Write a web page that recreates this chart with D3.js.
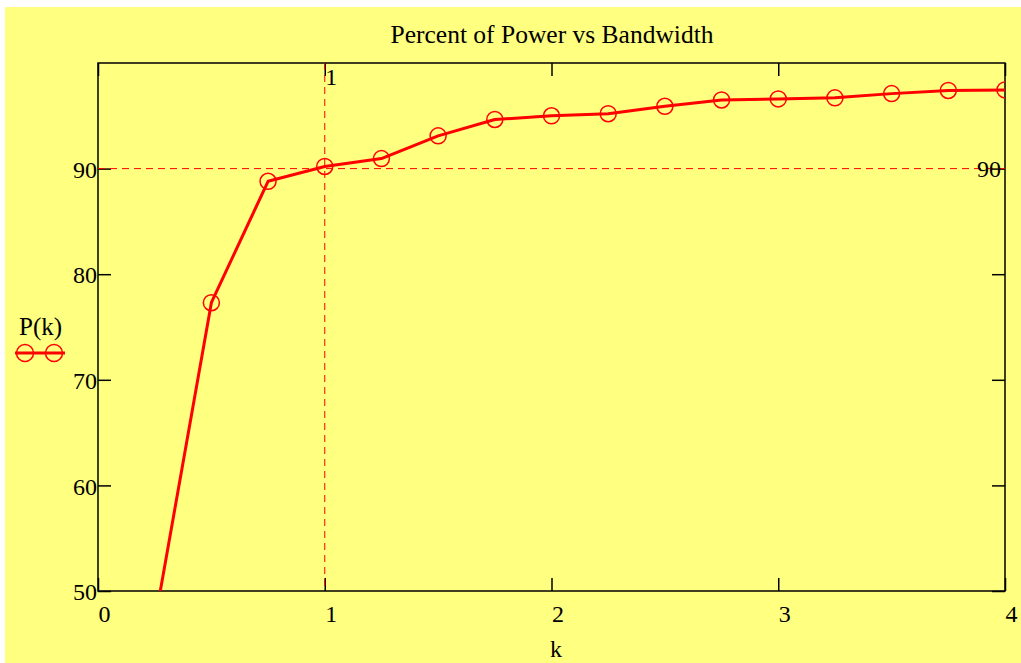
<!DOCTYPE html>
<html>
<head>
<meta charset="utf-8">
<script src="https://cdn.jsdelivr.net/npm/d3@7"></script>
<style>
  body { margin: 0; background: #fff; }
  svg text { font-family: "Liberation Serif", "Times New Roman", serif; fill: #000; }
</style>
</head>
<body>
<div id="chart"></div>
<script>
// Data
const kValues  = [0.25, 0.5, 0.75, 1, 1.25, 1.5, 1.75, 2, 2.25, 2.5, 2.75, 3, 3.25, 3.5, 3.75, 4];
const powerPct = [47.0, 77.3, 88.8, 90.2, 90.95, 93.1, 94.65, 95.0, 95.2, 95.9, 96.5, 96.6, 96.7, 97.1, 97.4, 97.45];
const xTicks   = [0, 1, 2, 3, 4];
const yTicks   = [50, 60, 70, 80, 90];
const markK    = 1;
const markP    = 90;

const W = 1021, H = 663;
const plot = { left: 98, right: 1005, top: 63, bottom: 591 };
const red = "#ff0000";
const labelSize = "24px";

const svg = d3.select("#chart").append("svg")
    .attr("width", W)
    .attr("height", H);

// yellow panel
svg.append("rect")
    .attr("x", 5).attr("y", 7)
    .attr("width", W - 5).attr("height", H - 7)
    .attr("fill", "#ffff80");

const x = d3.scaleLinear().domain([0, 4]).range([plot.left, plot.right]);
const y = d3.scaleLinear().domain([50, 100]).range([plot.bottom, plot.top]);

svg.append("clipPath").attr("id", "plotClip")
  .append("rect")
    .attr("x", plot.left).attr("y", plot.top)
    .attr("width", plot.right - plot.left)
    .attr("height", plot.bottom - plot.top);

// Axes with inward ticks
const tickLen = 13;
const axisStyle = g => {
  g.select(".domain").remove();
  g.selectAll(".tick line").attr("stroke", "#000").attr("stroke-width", 1.5);
  g.selectAll(".tick text").style("font-size", labelSize);
};

svg.append("g")
    .attr("transform", `translate(${plot.left},0)`)
    .call(d3.axisLeft(y).tickValues(yTicks).tickSize(-tickLen).tickPadding(1).tickFormat(d3.format("d")))
    .call(axisStyle)
    .call(g => g.selectAll(".tick text").attr("dy", "0.36em"));

svg.append("g")
    .attr("transform", `translate(${plot.right},0)`)
    .call(d3.axisRight(y).tickValues(yTicks).tickSize(-tickLen).tickFormat(""))
    .call(axisStyle);

svg.append("g")
    .attr("transform", `translate(0,${plot.bottom})`)
    .call(d3.axisBottom(x).tickValues(xTicks).tickSize(-tickLen).tickFormat(d3.format("d")))
    .call(axisStyle)
    .call(g => g.selectAll(".tick text")
        .attr("text-anchor", "start")
        .attr("y", 31).attr("dy", null));

svg.append("g")
    .attr("transform", `translate(0,${plot.top})`)
    .call(d3.axisTop(x).tickValues(xTicks).tickSize(-tickLen).tickFormat(""))
    .call(axisStyle);

// frame
svg.append("rect")
    .attr("x", plot.left).attr("y", plot.top)
    .attr("width", plot.right - plot.left)
    .attr("height", plot.bottom - plot.top)
    .attr("fill", "none")
    .attr("stroke", "#000")
    .attr("stroke-width", 1.5);

// Marker lines at k = 1 and P = 90
svg.append("line")
    .attr("x1", x(markK)).attr("x2", x(markK))
    .attr("y1", plot.top).attr("y2", plot.bottom)
    .attr("stroke", red).attr("stroke-width", 1)
    .attr("stroke-dasharray", "7,5");

svg.append("line")
    .attr("x1", plot.left).attr("x2", plot.right)
    .attr("y1", y(markP)).attr("y2", y(markP))
    .attr("stroke", red).attr("stroke-width", 1)
    .attr("stroke-dasharray", "7,5");

svg.append("text")
    .attr("x", x(markK) + 0.5).attr("y", plot.top + 22)
    .style("font-size", labelSize)
    .text(markK);

svg.append("text")
    .attr("x", plot.right - 4).attr("y", y(markP) + 8)
    .attr("text-anchor", "end")
    .style("font-size", labelSize)
    .text(markP);

// Series
const series = kValues.map((k, i) => ({ k, p: powerPct[i] }));
const lineGen = d3.line()
    .x(d => x(d.k))
    .y(d => y(d.p));

const plotG = svg.append("g").attr("clip-path", "url(#plotClip)");

plotG.append("path")
    .datum(series)
    .attr("fill", "none")
    .attr("stroke", red)
    .attr("stroke-width", 3)
    .attr("stroke-linejoin", "round")
    .attr("d", lineGen);

plotG.selectAll(".marker")
    .data(series)
    .join("circle")
      .attr("class", "marker")
      .attr("cx", d => x(d.k))
      .attr("cy", d => y(d.p))
      .attr("r", 8)
      .attr("fill", "none")
      .attr("stroke", red)
      .attr("stroke-width", 1.5);

// Title and axis label
svg.append("text")
    .attr("x", (plot.left + plot.right) / 2 + 0.5).attr("y", 43)
    .attr("text-anchor", "middle")
    .style("font-size", "25.5px")
    .text("Percent of Power vs Bandwidth");

svg.append("text")
    .attr("x", 556).attr("y", 657)
    .attr("text-anchor", "middle")
    .style("font-size", labelSize)
    .text("k");

// Legend on the left
svg.append("text")
    .attr("x", 19).attr("y", 335)
    .style("font-size", "25px")
    .text("P(k)");

svg.append("line")
    .attr("x1", 15).attr("x2", 65)
    .attr("y1", 353).attr("y2", 353)
    .attr("stroke", red).attr("stroke-width", 3);

svg.selectAll(".legend-marker")
    .data([25, 54])
    .join("circle")
      .attr("class", "legend-marker")
      .attr("cx", d => d)
      .attr("cy", 353)
      .attr("r", 8.5)
      .attr("fill", "none")
      .attr("stroke", red)
      .attr("stroke-width", 1.5);
</script>
</body>
</html>
